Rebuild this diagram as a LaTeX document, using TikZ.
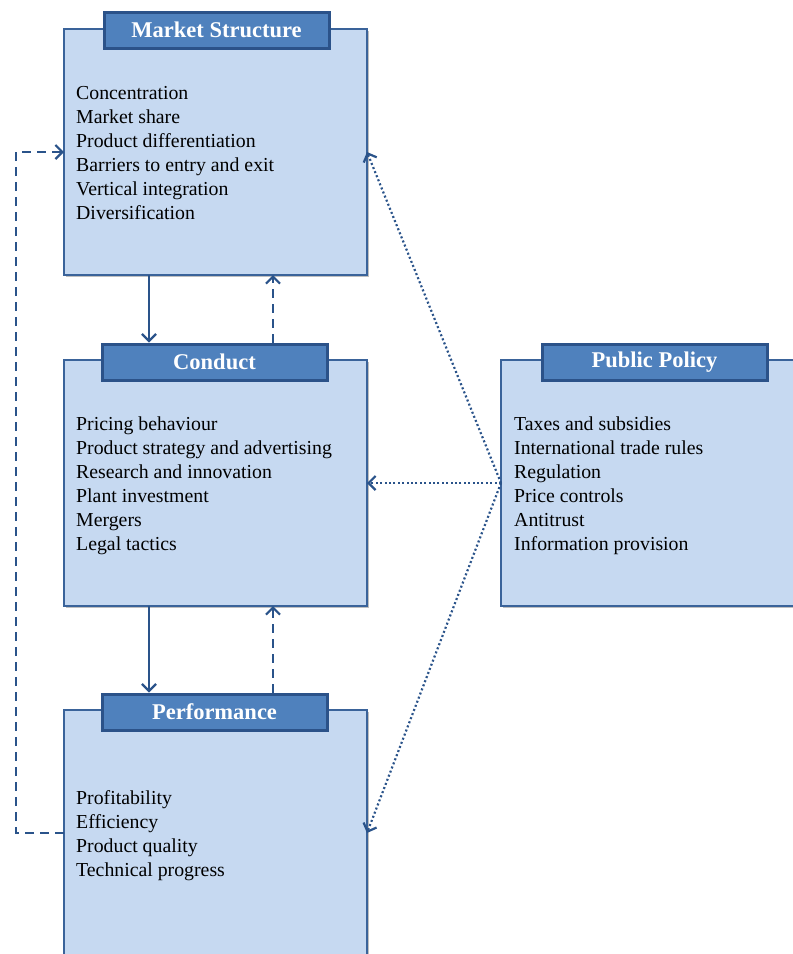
\documentclass[tikz,border=0pt]{standalone}
\usepackage{fontspec}
\setmainfont{Liberation Serif}
\usetikzlibrary{arrows.meta,shadows,calc}

\definecolor{panelfill}{HTML}{C6D9F1}
\definecolor{panelline}{HTML}{3A639A}
\definecolor{headfill}{HTML}{4F81BD}
\definecolor{headline}{HTML}{2B5289}
\definecolor{linkcol}{HTML}{2A538A}

\tikzset{
  panel/.style={draw=panelline, line width=1.5pt, fill=panelfill,
    minimum width=303pt, minimum height=246pt, inner sep=0pt, outer sep=0pt,
    anchor=north west,
    drop shadow={shadow xshift=1.5pt, shadow yshift=-1.5pt, opacity=0.25, fill=black}},
  head/.style={draw=headline, line width=3pt, fill=headfill,
    minimum width=225pt, minimum height=36pt, inner sep=0pt, outer sep=1.5pt,
    anchor=north west, text=white, font=\fontsize{22.5}{24}\selectfont\bfseries},
  item/.style={anchor=base west, inner sep=0pt, font=\fontsize{19.8}{24}\selectfont},
  tip/.style={-{Straight Barb[length=7pt,width=14pt,line width=2.2pt]}},
  mainlink/.style={linkcol, line width=2.2pt, tip},
  backlink/.style={linkcol, line width=2.2pt, dash pattern=on 9pt off 6pt, tip},
  policylink/.style={linkcol, line width=2.2pt, dash pattern=on 2pt off 2.4pt, tip},
}

\begin{document}
\begin{tikzpicture}[x=1pt,y=-1pt]
  \path[use as bounding box, clip] (0,0) rectangle (793,954);

  % the four panels
  \node[panel] (ms) at (64,29) {};
  \node[panel] (co) at (64,360) {};
  \node[panel] (pe) at (64,710) {};
  \node[panel] (pp) at (501,360) {};

  % panel titles
  \node[head] (msh) at (102.5,10.5) {Market Structure};
  \node[head] (coh) at (100.5,342.5) {Conduct};
  \node[head] (peh) at (100.5,692.5) {Performance};
  \node[head] (pph) at (540.5,342.5) {Public Policy};

  % panel contents
  \foreach \t [count=\i] in {Concentration, Market share, Product differentiation,
      Barriers to entry and exit, Vertical integration, Diversification}
    \node[item] (ms-\i) at (76, 99+24*\i-24) {\t};
  \foreach \t [count=\i] in {Pricing behaviour, Product strategy and advertising,
      Research and innovation, Plant investment, Mergers, Legal tactics}
    \node[item] (co-\i) at (76, 430+24*\i-24) {\t};
  \foreach \t [count=\i] in {Profitability, Efficiency, Product quality, Technical progress}
    \node[item] (pe-\i) at (76, 804+24*\i-24) {\t};
  \foreach \t [count=\i] in {Taxes and subsidies, International trade rules, Regulation,
      Price controls, Antitrust, Information provision}
    \node[item] (pp-\i) at (514, 430+24*\i-24) {\t};

  % structure -> conduct -> performance, with feedback
  \draw[mainlink] ([xshift=85pt]ms.south west) -- ([xshift=85pt]ms.south west |- coh.north);
  \draw[backlink] ([xshift=209pt]ms.south west |- coh.north) -- ([xshift=209pt]ms.south west);
  \draw[mainlink] ([xshift=85pt]co.south west) -- ([xshift=85pt]co.south west |- peh.north);
  \draw[backlink] ([xshift=209pt]co.south west |- peh.north) -- ([xshift=209pt]co.south west);

  % long feedback loop from performance to structure
  \coordinate (loopbot) at (16,0 |- pe.west);
  \coordinate (looptop) at (16,0 |- ms.west);
  \draw[backlink] (pe.west) -- (loopbot) -- (looptop) -- (ms.west);

  % public policy influences
  \draw[policylink] (pp.west) -- (ms.east);
  \draw[policylink] (pp.west) -- (co.east);
  \draw[policylink] (pp.west) -- (pe.east);
\end{tikzpicture}
\end{document}
